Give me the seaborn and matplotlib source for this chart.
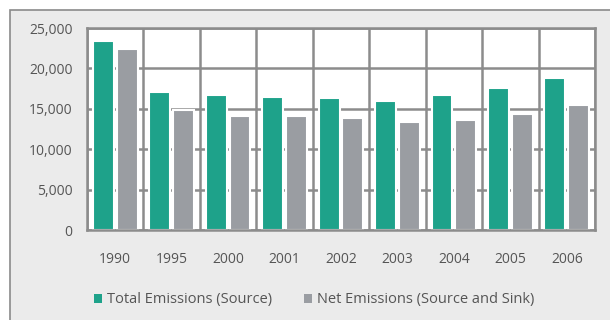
import matplotlib
matplotlib.use("Agg")
import matplotlib.pyplot as plt
import matplotlib.patches as mpatches
from matplotlib.ticker import FuncFormatter, FixedLocator
import seaborn as sns
import pandas as pd

years = ["1990", "1995", "2000", "2001", "2002", "2003", "2004", "2005", "2006"]
total_emissions = [23450, 17050, 16700, 16500, 16300, 16000, 16700, 17550, 18800]
net_emissions = [22400, 14850, 14150, 14050, 13900, 13350, 13600, 14350, 15450]
series_names = ["Total Emissions (Source)", "Net Emissions (Source and Sink)"]
y_ticks = [0, 5000, 10000, 15000, 20000, 25000]

df = pd.DataFrame({
    "year": years * 2,
    "value": total_emissions + net_emissions,
    "series": [series_names[0]] * len(years) + [series_names[1]] * len(years),
})

green = "#1ea28a"
gray = "#9a9da2"
grid_col = "#8c8c8c"
text_col = "#555555"

sns.set_theme(style="white")
plt.rcParams["font.family"] = ["Open Sans", "DejaVu Sans"]

fig = plt.figure(figsize=(6.1, 3.2), dpi=100)
fig.patch.set_facecolor("white")
# outer chart frame, kept behind the plotting area
frame = mpatches.Rectangle((10 / 610, -0.01), 1.0, 1 - 10 / 320 + 0.01,
                           transform=fig.transFigure, facecolor="#ebebeb",
                           edgecolor="#8a8a8a", linewidth=1.2, zorder=-10)
fig.add_artist(frame)

ax = fig.add_axes([87 / 610, 1 - 230 / 320, (595 - 87) / 610, (230 - 28) / 320])
ax.set_facecolor("white")

sns.barplot(data=df, x="year", y="value", hue="series", order=years,
            hue_order=series_names, palette=[green, gray], width=0.84, gap=0.12,
            saturation=1, ax=ax, zorder=3, legend=True,
            edgecolor="white", linewidth=1.5)

ax.set_ylim(0, 25000)
ax.set_xlim(-0.5, len(years) - 0.5)
ax.set_yticks(y_ticks)
ax.yaxis.set_major_formatter(FuncFormatter(lambda v, p: f"{int(v):,}"))
ax.xaxis.set_minor_locator(FixedLocator([i - 0.5 for i in range(len(years) + 1)]))
ax.set_axisbelow(True)
ax.grid(axis="y", which="major", color=grid_col, linewidth=1.8)
ax.grid(axis="x", which="minor", color=grid_col, linewidth=1.8)
ax.grid(axis="x", which="major", visible=False)
for s in ax.spines.values():
    s.set_color(grid_col)
    s.set_linewidth(1.8)
    s.set_zorder(5)
ax.set_xlabel("")
ax.set_ylabel("")
ax.tick_params(axis="both", which="both", length=0, colors=text_col, labelsize=10)
ax.tick_params(axis="x", pad=15.5)
ax.tick_params(axis="y", pad=10.5)

leg = ax.get_legend()
handles = leg.legend_handles
leg.remove()
for h in handles:
    h.set_edgecolor("none")
fig.legend(handles, series_names, loc="center", bbox_to_anchor=(314 / 610, 1 - 300 / 320),
           ncol=2, frameon=False, fontsize=10.5, labelcolor=text_col, handlelength=0.55,
           handleheight=0.55, handletextpad=0.35, columnspacing=2.2)

fig.savefig("out.png", dpi=100, facecolor=fig.get_facecolor())
